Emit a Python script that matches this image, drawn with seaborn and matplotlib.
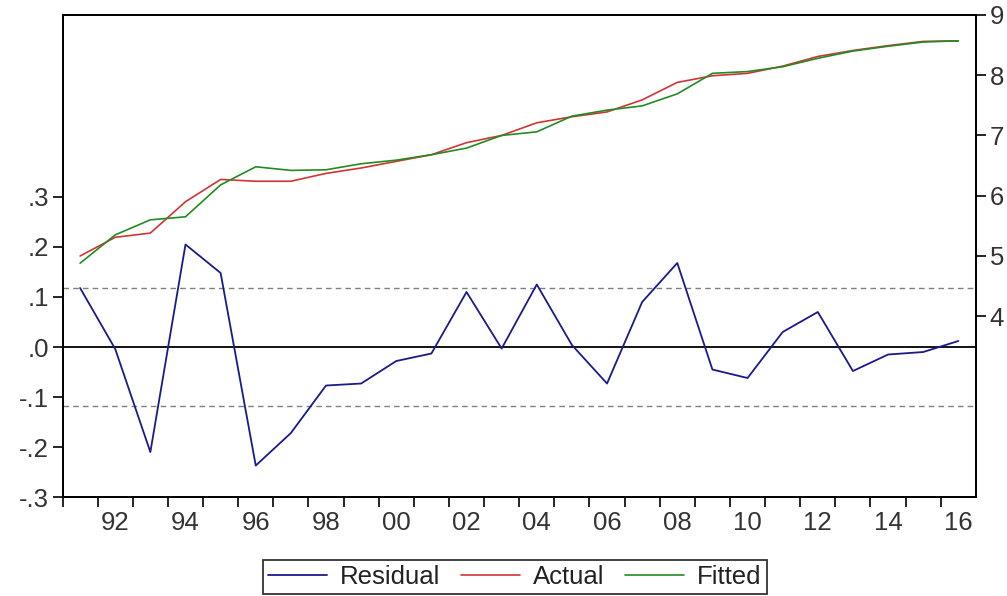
import numpy as np
import pandas as pd
import matplotlib
matplotlib.use("Agg")
import matplotlib.pyplot as plt
from matplotlib.ticker import FixedLocator, FixedFormatter
import seaborn as sns

# ---------------- data ----------------
years = list(range(1991, 2017))
residual = [0.118, -0.004, -0.210, 0.205, 0.148, -0.237, -0.172, -0.077, -0.073, -0.028,
            -0.013, 0.110, -0.003, 0.125, 0.004, -0.073, 0.090, 0.168, -0.045, -0.062,
            0.030, 0.070, -0.048, -0.015, -0.010, 0.012]
actual = [5.00, 5.31, 5.38, 5.90, 6.27, 6.24, 6.24, 6.37, 6.46, 6.57,
          6.68, 6.88, 7.00, 7.21, 7.31, 7.39, 7.59, 7.88, 7.99, 8.03,
          8.15, 8.31, 8.41, 8.49, 8.56, 8.57]
fitted = [4.88, 5.35, 5.60, 5.65, 6.18, 6.48, 6.42, 6.43, 6.53, 6.59,
          6.68, 6.79, 7.00, 7.06, 7.32, 7.42, 7.49, 7.69, 8.03, 8.06,
          8.14, 8.28, 8.40, 8.48, 8.55, 8.57]
se_band = 0.118
x_label_years = list(range(1992, 2017, 2))
x_tick_labels = ["92", "94", "96", "98", "00", "02", "04", "06", "08", "10", "12", "14", "16"]
left_ticks = [-0.3, -0.2, -0.1, 0.0, 0.1, 0.2, 0.3]
left_tick_labels = ["-.3", "-.2", "-.1", ".0", ".1", ".2", ".3"]
right_ticks = [4, 5, 6, 7, 8, 9]
right_tick_labels = ["4", "5", "6", "7", "8", "9"]

# ---------------- style ----------------
sns.set_style("ticks")
plt.rcParams['font.family'] = ['Liberation Sans', 'DejaVu Sans']
FS = 18.5
plt.rcParams['font.size'] = FS

C_RES = "#1a1a8c"
C_ACT = "#d03535"
C_FIT = "#228b22"

df = pd.DataFrame({
    "pos": np.array(years) + 0.5,
    "Residual": residual,
    "Actual": actual,
    "Fitted": fitted,
})

fig = plt.figure(figsize=(10.07, 5.96), dpi=100)
ax = fig.add_axes([0.0621, 0.166, 0.907, 0.809])
ax2 = ax.twinx()

# reference lines on the residual axis
ax.axhline(0, color="black", lw=1.3, zorder=1)
ax.axhline(se_band, color="#808080", lw=1.0, ls=(0, (4, 3)), zorder=1)
ax.axhline(-se_band, color="#808080", lw=1.0, ls=(0, (4, 3)), zorder=1)

sns.lineplot(data=df, x="pos", y="Residual", ax=ax, color=C_RES, lw=1.3, legend=False)
sns.lineplot(data=df, x="pos", y="Actual", ax=ax2, color=C_ACT, lw=1.2, legend=False)
sns.lineplot(data=df, x="pos", y="Fitted", ax=ax2, color=C_FIT, lw=1.2, legend=False)

ax.set_xlim(1991, 2017)
ax.set_ylim(-0.3, 0.664)
ax2.set_ylim(1, 9)

ax.set_xlabel("")
ax.set_ylabel("")
ax2.set_ylabel("")

# x ticks: year boundaries (unlabelled) + labels centred in the year
ax.xaxis.set_major_locator(FixedLocator(list(range(1991, 2017))))
ax.xaxis.set_major_formatter(FixedFormatter([""] * 26))
ax.xaxis.set_minor_locator(FixedLocator([y + 0.5 for y in x_label_years]))
ax.xaxis.set_minor_formatter(FixedFormatter(x_tick_labels))
ax.tick_params(axis="x", which="major", length=7, width=1.2, direction="out", color="black")
ax.tick_params(axis="x", which="minor", length=0, pad=10, labelsize=FS, labelcolor="#333333")

ax.yaxis.set_major_locator(FixedLocator(left_ticks))
ax.yaxis.set_major_formatter(FixedFormatter(left_tick_labels))
ax.tick_params(axis="y", length=7, width=1.2, direction="out", pad=3, labelsize=FS,
               labelcolor="#333333", color="black")

ax2.yaxis.set_major_locator(FixedLocator(right_ticks))
ax2.yaxis.set_major_formatter(FixedFormatter(right_tick_labels))
ax2.tick_params(axis="y", length=7, width=1.2, direction="out", pad=3, labelsize=FS,
                labelcolor="#333333", color="black")

for a in (ax, ax2):
    for s in a.spines.values():
        s.set_visible(True)
        s.set_color("black")
        s.set_linewidth(1.3)

handles = [ax.get_lines()[-1], ax2.get_lines()[0], ax2.get_lines()[1]]
leg = fig.legend(handles, ["Residual", "Actual", "Fitted"], loc="center",
                 bbox_to_anchor=(515 / 1007, 1 - 577 / 596), ncol=3, frameon=True,
                 fancybox=False, edgecolor="black", handlelength=2.3, handletextpad=0.5,
                 columnspacing=0.8, borderpad=0.2, fontsize=FS)
leg.get_frame().set_linewidth(1.3)
for t in leg.get_texts():
    t.set_color("#222222")

fig.savefig("out.png", dpi=100)
